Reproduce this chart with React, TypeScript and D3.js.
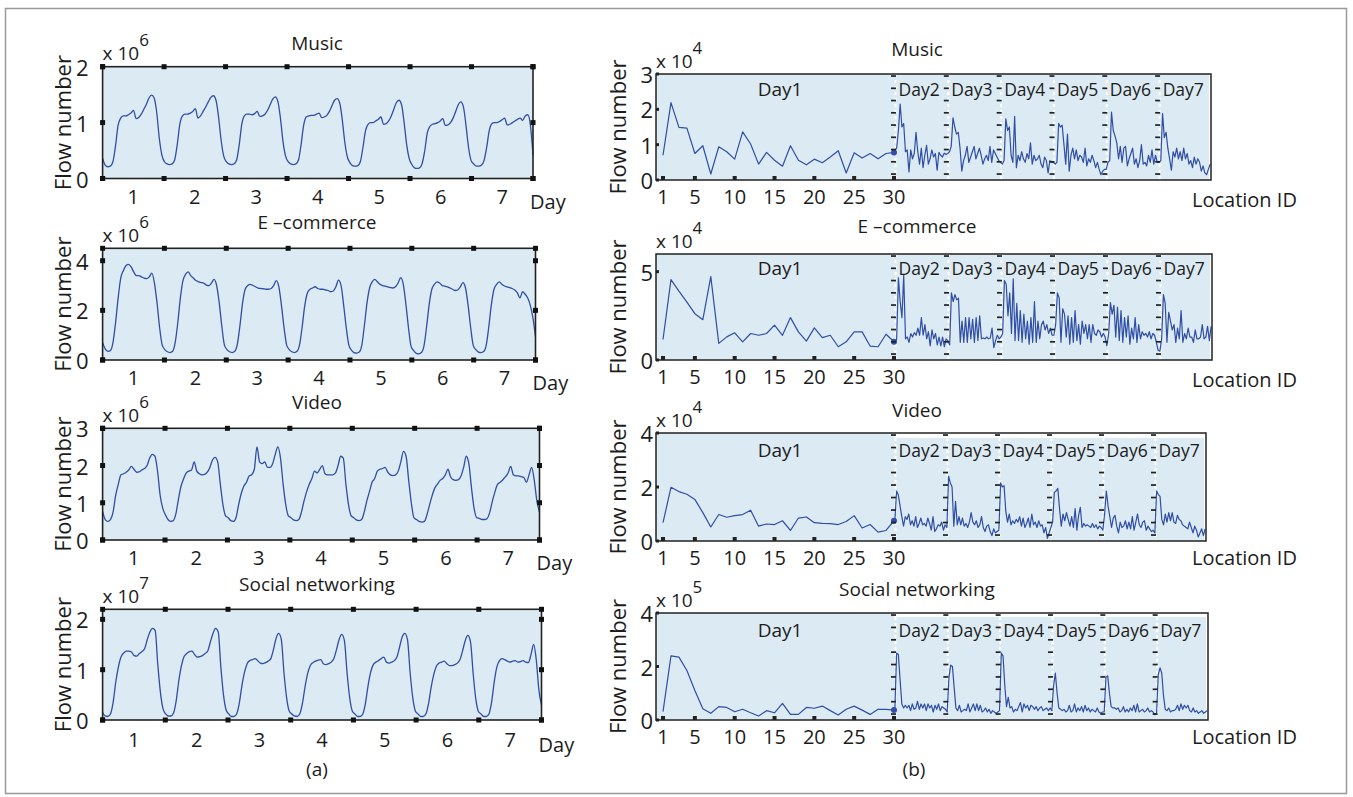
import React from "react";
import * as d3 from "d3";

const FONT = "'Open Sans', 'Noto Sans', Arial, sans-serif";
const TEXT_COLOR = "#1c1c1c";
const LINE_COLOR = "#2f4ea5";
const PANEL_BG = "#dcebf3";

// axis tick labels
const dayTicks = [1, 2, 3, 4, 5, 6, 7];
const locationTicks = [1, 5, 10, 15, 20, 25, 30];
const dayNames = ["Day2", "Day3", "Day4", "Day5", "Day6", "Day7"];

// (a) flow number per hour, one row of 24 readings per day
const musicHourly = [
  [0.36, 0.24, 0.21, 0.22, 0.3, 0.58, 0.95, 1.08, 1.12, 1.12, 1.14, 1.17, 1.22, 1.07, 1.09, 1.15, 1.24, 1.33, 1.44, 1.49, 1.44, 1.18, 0.72, 0.42],
  [0.3, 0.26, 0.25, 0.26, 0.34, 0.62, 0.98, 1.12, 1.15, 1.15, 1.17, 1.2, 1.25, 1.08, 1.12, 1.2, 1.28, 1.37, 1.45, 1.48, 1.4, 1.1, 0.68, 0.4],
  [0.3, 0.26, 0.25, 0.26, 0.33, 0.6, 0.97, 1.12, 1.15, 1.15, 1.14, 1.16, 1.2, 1.11, 1.12, 1.15, 1.22, 1.32, 1.42, 1.46, 1.38, 1.08, 0.66, 0.4],
  [0.3, 0.26, 0.25, 0.26, 0.33, 0.6, 0.95, 1.1, 1.12, 1.13, 1.13, 1.15, 1.17, 1.09, 1.1, 1.13, 1.2, 1.3, 1.4, 1.43, 1.35, 1.05, 0.64, 0.38],
  [0.28, 0.23, 0.22, 0.23, 0.3, 0.55, 0.85, 0.97, 1.0, 1.0, 1.03, 1.06, 1.1, 0.97, 0.98, 1.03, 1.12, 1.24, 1.36, 1.4, 1.32, 1.0, 0.6, 0.35],
  [0.25, 0.19, 0.18, 0.19, 0.27, 0.5, 0.82, 0.93, 0.97, 0.98, 1.0, 1.03, 1.07, 0.95, 0.96, 1.0, 1.08, 1.2, 1.32, 1.37, 1.28, 0.95, 0.55, 0.32],
  [0.26, 0.22, 0.22, 0.24, 0.32, 0.55, 0.85, 0.98, 1.0, 1.0, 1.02, 1.05, 1.08, 0.96, 0.97, 1.0, 1.03, 1.06, 1.08, 1.04, 1.12, 1.14, 0.95, 0.42],
];
const ecommerceHourly = [
  [0.7, 0.45, 0.35, 0.38, 0.7, 1.5, 2.5, 3.3, 3.6, 3.8, 3.85, 3.75, 3.55, 3.4, 3.4, 3.35, 3.3, 3.28, 3.35, 3.5, 3.1, 2.3, 1.3, 0.6],
  [0.42, 0.33, 0.3, 0.35, 0.7, 1.5, 2.5, 3.2, 3.45, 3.55, 3.4, 3.3, 3.2, 3.15, 3.12, 3.1, 3.02, 3.0, 3.1, 3.25, 3.0, 2.3, 1.35, 0.6],
  [0.42, 0.33, 0.3, 0.35, 0.65, 1.4, 2.3, 2.85, 3.0, 3.05, 3.0, 2.95, 2.9, 2.88, 2.87, 2.85, 2.85, 2.88, 3.0, 3.2, 2.95, 2.2, 1.3, 0.6],
  [0.42, 0.33, 0.3, 0.35, 0.62, 1.35, 2.2, 2.7, 2.85, 2.9, 2.95, 2.88, 2.85, 2.85, 2.82, 2.8, 2.75, 2.78, 2.95, 3.22, 3.0, 2.2, 1.3, 0.6],
  [0.4, 0.3, 0.28, 0.32, 0.6, 1.4, 2.3, 2.9, 3.15, 3.25, 3.15, 3.05, 3.0, 2.98, 2.95, 2.92, 2.9, 2.95, 3.1, 3.32, 3.05, 2.25, 1.3, 0.55],
  [0.38, 0.27, 0.25, 0.3, 0.58, 1.35, 2.25, 2.85, 3.05, 3.15, 3.1, 3.0, 2.98, 2.95, 2.9, 2.85, 2.8, 2.82, 2.95, 3.12, 2.9, 2.2, 1.3, 0.58],
  [0.42, 0.32, 0.3, 0.34, 0.6, 1.35, 2.25, 2.85, 3.05, 3.15, 3.05, 2.98, 2.95, 2.92, 2.88, 2.82, 2.7, 2.5, 2.75, 2.65, 2.5, 2.2, 1.7, 0.95],
];
const videoHourly = [
  [0.76, 0.55, 0.5, 0.55, 0.75, 1.2, 1.5, 1.75, 1.78, 1.82, 1.88, 1.98, 1.9, 1.82, 1.83, 1.88, 1.92, 2.0, 2.2, 2.3, 2.25, 1.85, 1.2, 0.85],
  [0.68, 0.55, 0.5, 0.52, 0.7, 1.1, 1.45, 1.65, 1.8, 1.85, 1.88, 2.1, 1.85, 1.78, 1.75, 1.76, 1.82, 1.95, 2.15, 2.22, 2.1, 1.5, 0.95, 0.65],
  [0.6, 0.52, 0.5, 0.6, 0.95, 1.25, 1.45, 1.55, 1.72, 1.75, 1.9, 2.5, 2.1, 2.05, 2.1, 1.95, 1.95, 2.05, 2.3, 2.5, 2.2, 1.5, 0.95, 0.65],
  [0.6, 0.54, 0.52, 0.55, 0.75, 1.05, 1.3, 1.5, 1.65, 1.85, 1.8, 1.9, 2.0, 1.78, 1.75, 1.75, 1.75, 1.8, 2.0, 2.25, 2.2, 1.5, 0.95, 0.65],
  [0.6, 0.54, 0.52, 0.55, 0.75, 1.05, 1.3, 1.55, 1.65, 1.85, 1.9, 1.92, 1.95, 1.82, 1.75, 1.73, 1.75, 1.85, 2.1, 2.38, 2.25, 1.6, 1.0, 0.6],
  [0.55, 0.5, 0.48, 0.5, 0.68, 0.95, 1.2, 1.4, 1.5, 1.6, 1.65, 1.75, 1.9, 1.7, 1.62, 1.6, 1.62, 1.72, 1.95, 2.25, 2.05, 1.4, 0.85, 0.6],
  [0.58, 0.55, 0.55, 0.58, 0.75, 1.05, 1.3, 1.5, 1.55, 1.62, 1.7, 1.8, 1.98, 1.75, 1.72, 1.72, 1.7, 1.68, 1.55, 1.75, 1.95, 1.6, 1.05, 0.75],
];
const socialHourly = [
  [0.15, 0.08, 0.07, 0.12, 0.35, 0.75, 1.05, 1.25, 1.33, 1.37, 1.37, 1.35, 1.28, 1.27, 1.32, 1.36, 1.42, 1.6, 1.75, 1.82, 1.78, 1.1, 0.55, 0.22],
  [0.12, 0.08, 0.08, 0.14, 0.38, 0.78, 1.08, 1.26, 1.32, 1.36, 1.37, 1.3, 1.25, 1.26, 1.28, 1.32, 1.37, 1.55, 1.72, 1.82, 1.75, 1.05, 0.5, 0.2],
  [0.12, 0.07, 0.07, 0.12, 0.33, 0.68, 0.95, 1.12, 1.18, 1.2, 1.22, 1.18, 1.13, 1.12, 1.14, 1.17, 1.22, 1.4, 1.62, 1.72, 1.6, 0.95, 0.45, 0.18],
  [0.12, 0.08, 0.07, 0.12, 0.32, 0.65, 0.92, 1.08, 1.14, 1.17, 1.19, 1.2, 1.12, 1.1, 1.12, 1.15, 1.22, 1.4, 1.6, 1.7, 1.58, 0.95, 0.45, 0.18],
  [0.12, 0.07, 0.07, 0.12, 0.33, 0.68, 0.95, 1.1, 1.15, 1.18, 1.22, 1.25, 1.15, 1.13, 1.15, 1.18, 1.25, 1.45, 1.65, 1.72, 1.6, 0.95, 0.45, 0.18],
  [0.12, 0.07, 0.07, 0.12, 0.32, 0.65, 0.9, 1.07, 1.13, 1.15, 1.17, 1.12, 1.08, 1.08, 1.1, 1.13, 1.2, 1.38, 1.58, 1.68, 1.55, 0.92, 0.42, 0.17],
  [0.12, 0.07, 0.07, 0.12, 0.35, 0.75, 1.05, 1.18, 1.22, 1.2, 1.17, 1.15, 1.17, 1.18, 1.15, 1.16, 1.18, 1.15, 1.14, 1.3, 1.5, 1.2, 0.6, 0.3],
];

// (b) flow number per location ID (30 locations), one row per day
const musicByLocation = [
  [0.7, 2.19, 1.49, 1.47, 0.75, 0.97, 0.17, 0.94, 0.8, 0.59, 1.36, 1.02, 0.45, 0.78, 0.56, 0.39, 0.97, 0.56, 0.43, 0.59, 0.49, 0.65, 0.83, 0.2, 0.77, 0.62, 0.75, 0.6, 0.75, 0.78],
  [0.84, 0.9, 1.4, 2.15, 1.5, 1.6, 0.8, 0.85, 0.23, 0.85, 0.6, 0.75, 1.35, 0.8, 0.45, 0.9, 0.35, 0.7, 0.98, 0.45, 0.6, 0.85, 0.65, 0.75, 0.28, 0.78, 0.7, 0.65, 0.76, 0.72],
  [0.75, 0.8, 0.95, 1.76, 1.5, 1.3, 1.35, 0.9, 0.25, 0.55, 0.7, 0.95, 0.5, 0.65, 0.8, 0.95, 0.6, 0.75, 0.9, 0.7, 0.45, 0.6, 0.7, 0.55, 0.95, 0.5, 0.85, 0.75, 0.65, 0.55],
  [0.5, 0.45, 0.55, 1.73, 1.4, 1.5, 0.7, 0.5, 1.8, 0.35, 0.7, 0.55, 0.8, 0.6, 0.5, 0.75, 0.6, 1.05, 0.45, 0.7, 0.55, 0.6, 0.7, 0.45, 0.35, 0.65, 0.55, 0.2, 0.55, 0.5],
  [0.5, 0.45, 0.5, 1.6, 1.5, 1.55, 1.0, 0.45, 1.3, 0.25, 0.7, 0.9, 0.6, 0.85, 0.55, 0.7, 0.65, 0.5, 0.9, 0.4, 0.6, 0.5, 0.7, 0.55, 0.35, 0.5, 0.3, 0.15, 0.25, 0.3],
  [0.3, 0.5, 0.55, 1.92, 1.4, 1.25, 1.05, 0.6, 0.95, 0.5, 0.9, 0.95, 0.4, 0.6, 0.75, 0.9, 0.45, 0.6, 0.35, 0.55, 1.0, 0.45, 0.5, 0.4, 0.7, 0.5, 0.85, 0.45, 0.7, 0.5],
  [0.5, 0.55, 1.88, 1.2, 1.35, 0.9, 0.6, 0.28, 0.8, 0.65, 0.9, 0.6, 0.8, 0.55, 0.9, 0.6, 0.75, 0.45, 0.55, 0.35, 0.65, 0.45, 0.6, 0.5, 0.25, 0.4, 0.2, 0.15, 0.3, 0.45],
];
const ecommerceByLocation = [
  [1.16, 4.55, 3.9, 3.28, 2.62, 2.28, 4.72, 0.94, 1.31, 1.54, 1.03, 1.5, 1.4, 1.5, 1.97, 1.4, 2.4, 1.59, 1.07, 1.82, 1.27, 1.4, 0.75, 1.03, 1.59, 1.59, 0.79, 0.75, 1.46, 1.03],
  [0.95, 1.2, 4.65, 3.3, 2.4, 4.8, 1.2, 1.3, 1.0, 1.5, 1.3, 1.55, 1.4, 1.8, 1.4, 2.4, 1.4, 2.0, 1.2, 1.6, 0.8, 1.7, 1.2, 1.5, 0.85, 1.3, 0.8, 1.3, 0.75, 1.2],
  [1.1, 0.85, 3.8, 3.3, 3.7, 3.4, 3.5, 1.0, 2.2, 1.0, 2.4, 1.0, 2.4, 1.2, 2.3, 1.0, 2.4, 1.1, 2.5, 1.2, 1.25, 1.2, 1.3, 1.2, 1.25, 1.8, 0.7, 1.1, 1.4, 1.2],
  [1.3, 1.5, 4.5, 4.3, 2.5, 3.8, 1.5, 4.6, 1.1, 3.2, 1.1, 2.8, 1.0, 2.6, 1.2, 2.2, 0.9, 2.4, 1.0, 3.3, 1.0, 2.2, 1.2, 2.0, 2.2, 1.7, 2.0, 1.5, 1.8, 1.4],
  [1.4, 2.0, 3.8, 3.5, 1.0, 2.9, 2.6, 1.3, 2.5, 0.9, 2.4, 1.0, 2.8, 1.1, 2.0, 0.9, 2.2, 1.5, 2.0, 1.2, 2.0, 1.0, 2.0, 1.5, 1.4, 1.7, 1.6, 1.3, 1.5, 1.3],
  [0.8, 1.5, 3.25, 2.6, 3.1, 1.3, 3.0, 1.1, 2.8, 1.0, 2.4, 1.3, 2.5, 0.9, 1.8, 1.2, 2.4, 1.0, 2.0, 1.2, 1.6, 1.4, 1.5, 1.3, 1.6, 1.2, 1.5, 1.4, 1.0, 0.55],
  [0.5, 1.2, 3.7, 3.2, 1.0, 2.7, 2.2, 1.7, 2.0, 1.0, 1.8, 1.2, 2.8, 1.0, 1.5, 1.2, 1.8, 1.3, 1.3, 1.0, 1.7, 1.2, 1.2, 1.3, 2.0, 1.2, 1.3, 1.9, 1.1, 1.9],
];
const videoByLocation = [
  [0.68, 1.99, 1.83, 1.73, 1.54, 1.05, 0.52, 0.98, 0.88, 0.94, 0.98, 1.14, 0.55, 0.63, 0.61, 0.75, 0.39, 0.85, 0.89, 0.68, 0.65, 0.64, 0.61, 0.72, 0.94, 0.48, 0.61, 0.33, 0.39, 0.75],
  [0.75, 1.85, 1.7, 1.3, 0.9, 0.55, 0.9, 0.8, 1.0, 0.6, 0.75, 0.55, 0.9, 0.5, 0.65, 0.85, 0.6, 0.65, 0.55, 0.85, 0.65, 0.4, 0.9, 0.35, 0.45, 0.6, 0.55, 0.7, 0.4, 0.6],
  [0.5, 2.4, 2.15, 2.0, 0.55, 1.47, 0.6, 0.9, 0.6, 0.85, 0.55, 0.65, 0.5, 0.7, 1.05, 0.7, 0.6, 0.75, 0.5, 0.6, 0.9, 0.5, 0.35, 0.55, 0.6, 0.35, 0.2, 0.45, 0.3, 0.35],
  [0.4, 2.15, 2.0, 2.05, 1.1, 0.7, 1.0, 0.6, 0.75, 0.65, 0.8, 0.7, 0.9, 0.55, 0.85, 0.5, 0.65, 0.85, 0.5, 1.0, 0.6, 0.7, 0.5, 0.75, 0.55, 0.6, 0.3, 0.5, 0.1, 0.3],
  [0.5, 0.7, 1.8, 1.85, 1.95, 1.2, 0.55, 1.0, 0.75, 1.05, 0.8, 0.55, 0.9, 0.5, 1.2, 0.4, 0.95, 1.25, 0.5, 0.65, 0.55, 0.6, 0.55, 0.5, 0.65, 0.5, 0.6, 0.45, 0.55, 0.5],
  [0.4, 1.0, 1.85, 1.3, 0.9, 0.5, 0.85, 0.95, 0.55, 0.3, 0.7, 0.5, 0.55, 0.75, 0.45, 0.7, 0.45, 0.9, 0.4, 0.7, 1.0, 0.6, 0.5, 0.7, 0.75, 0.4, 0.55, 0.45, 0.35, 0.4],
  [0.3, 1.85, 1.72, 1.65, 0.8, 0.6, 1.0, 0.7, 1.05, 0.75, 1.05, 0.7, 0.65, 0.95, 0.8, 0.75, 0.6, 0.55, 0.5, 0.45, 0.7, 0.5, 0.3, 0.55, 0.4, 0.15, 0.3, 0.45, 0.2, 0.45],
];
const socialByLocation = [
  [0.31, 2.4, 2.35, 1.85, 1.1, 0.42, 0.25, 0.5, 0.47, 0.31, 0.4, 0.27, 0.15, 0.35, 0.27, 0.62, 0.21, 0.21, 0.47, 0.44, 0.52, 0.35, 0.19, 0.4, 0.52, 0.37, 0.21, 0.4, 0.4, 0.37],
  [0.4, 2.5, 2.45, 1.5, 0.6, 0.45, 0.55, 0.45, 0.55, 0.35, 0.6, 0.4, 0.45, 0.7, 0.4, 0.6, 0.45, 0.6, 0.35, 0.6, 0.45, 0.55, 0.3, 0.55, 0.4, 0.6, 0.35, 0.5, 0.45, 0.4],
  [0.3, 1.6, 2.05, 2.0, 1.2, 0.45, 0.35, 0.55, 0.3, 0.35, 0.4, 0.35, 0.6, 0.3, 0.45, 0.6, 0.35, 0.6, 0.35, 0.55, 0.3, 0.35, 0.45, 0.3, 0.4, 0.25, 0.35, 0.3, 0.25, 0.3],
  [0.35, 2.5, 2.4, 1.3, 0.5, 0.85, 0.45, 0.5, 0.3, 0.4, 0.35, 0.5, 0.65, 0.3, 0.6, 0.45, 0.55, 0.35, 0.55, 0.5, 0.4, 0.5, 0.35, 0.45, 0.5, 0.35, 0.4, 0.45, 0.35, 0.45],
  [0.35, 1.3, 1.75, 1.0, 0.45, 0.4, 0.35, 0.4, 0.3, 0.35, 0.55, 0.3, 0.35, 0.6, 0.3, 0.45, 0.35, 0.5, 0.3, 0.55, 0.35, 0.45, 0.3, 0.4, 0.35, 0.3, 0.45, 0.3, 0.25, 0.3],
  [0.3, 1.6, 1.65, 1.0, 0.5, 0.45, 0.45, 0.4, 0.45, 0.3, 0.35, 0.5, 0.3, 0.4, 0.3, 0.45, 0.35, 0.55, 0.3, 0.6, 0.3, 0.35, 0.4, 0.3, 0.35, 0.45, 0.3, 0.35, 0.3, 0.2],
  [0.25, 1.7, 1.95, 1.75, 0.9, 0.4, 0.35, 0.45, 0.3, 0.35, 0.35, 0.4, 0.55, 0.35, 0.6, 0.4, 0.55, 0.45, 0.55, 0.35, 0.3, 0.45, 0.3, 0.35, 0.25, 0.3, 0.35, 0.25, 0.3, 0.35],
];

// layout of the panels (pixels)
const hourlyPanels = [
  { title: "Music", exp: "6", rows: musicHourly, yMax: 2, yTicks: [0, 1, 2], left: 102.6, right: 533, top: 66.7, bottom: 178.5, titleY: 50, labDy: 25 },
  { title: "E \u2013commerce", exp: "6", rows: ecommerceHourly, yMax: 4.5, yTicks: [0, 2, 4], left: 102.6, right: 535.5, top: 248.3, bottom: 360, titleY: 229, labDy: 25 },
  { title: "Video", exp: "6", rows: videoHourly, yMax: 3, yTicks: [0, 1, 2, 3], left: 102.6, right: 539.5, top: 428.3, bottom: 540, titleY: 409, labDy: 25 },
  { title: "Social networking", exp: "7", rows: socialHourly, yMax: 2.2, yTicks: [0, 1, 2], left: 102.6, right: 541.5, top: 609.3, bottom: 720, titleY: 591, labDy: 27 },
];

const locationPanels = [
  { title: "Music", exp: "4", rows: musicByLocation, yMax: 3, yTicks: [0, 1, 2, 3], left: 656, right: 1211, top: 74, bottom: 180, titleY: 56, gap: 0, locDy: 27, dayDy: 22 },
  { title: "E \u2013commerce", exp: "4", rows: ecommerceByLocation, yMax: 6, yTicks: [0, 5], left: 656, right: 1212, top: 254, bottom: 360, titleY: 233, gap: 0, locDy: 27, dayDy: 21 },
  { title: "Video", exp: "4", rows: videoByLocation, yMax: 4, yTicks: [0, 2, 4], left: 656, right: 1206, top: 433, bottom: 541, titleY: 417, gap: 5, locDy: 24, dayDy: 24 },
  { title: "Social networking", exp: "5", rows: socialByLocation, yMax: 4, yTicks: [0, 2, 4], left: 656, right: 1208, top: 613, bottom: 720, titleY: 596, gap: 4, locDy: 24, dayDy: 24 },
];

const SEP_X = 894; // location 30 of day 1

function HourlyPanel({ p }) {
  const values = p.rows.flat();
  const x = d3.scaleLinear().domain([0.5, 7.5]).range([p.left, p.right]);
  const y = d3.scaleLinear().domain([0, p.yMax]).range([p.bottom, p.top]);
  const t = d3.scaleLinear().domain([0, values.length - 1]).range([0.5, 7.5]);
  const path = d3
    .line()
    .x((d, i) => x(t(i)))
    .y((d) => y(d))
    .curve(d3.curveMonotoneX)(values);
  const edges = d3.range(0.5, 8, 1);
  const s = 5;
  const midY = (p.top + p.bottom) / 2;

  return (
    <g fontFamily={FONT} fill={TEXT_COLOR}>
      <rect x={p.left} y={p.top} width={p.right - p.left} height={p.bottom - p.top} fill={PANEL_BG} />
      <path d={path} fill="none" stroke={LINE_COLOR} strokeWidth={1.3} />
      <rect x={p.left} y={p.top} width={p.right - p.left} height={p.bottom - p.top} fill="none" stroke="#222" strokeWidth={1.6} />
      {edges.map((e) => (
        <g key={e} fill="#111">
          <rect x={x(e) - s / 2} y={p.top - s / 2} width={s} height={s} />
          <rect x={x(e) - s / 2} y={p.bottom - s / 2} width={s} height={s} />
        </g>
      ))}
      {p.yTicks.map((v) => (
        <g key={v}>
          <rect x={p.left - s / 2} y={y(v) - s / 2} width={s} height={s} fill="#111" />
          <rect x={p.right - s / 2} y={y(v) - s / 2} width={s} height={s} fill="#111" />
          <text x={p.left - 14} y={y(v)} fontSize={22} textAnchor="end" dominantBaseline="central">{v}</text>
        </g>
      ))}
      {dayTicks.map((d) => (
        <text key={d} x={x(d)} y={p.bottom + p.labDy} fontSize={20} textAnchor="middle">{d}</text>
      ))}
      <text x={p.right - 3} y={p.bottom + p.labDy + 5} fontSize={20}>Day</text>
      <text x={317} y={p.titleY} fontSize={19} textAnchor="middle">{p.title}</text>
      <text x={p.left} y={p.top - 6.5} fontSize={19}>
        x 10<tspan dy={-14} fontSize={17}>{p.exp}</tspan>
      </text>
      <text transform={`translate(71,${midY}) rotate(-90)`} fontSize={22} textAnchor="middle">Flow number</text>
    </g>
  );
}

function LocationPanel({ p }) {
  const values = p.rows.flat();
  // day 1 spreads over location IDs 1..30, days 2-7 are packed after it
  const x = d3.scaleLinear().domain([0.12, 30, 210]).range([p.left, SEP_X, p.right]);
  const y = d3.scaleLinear().domain([0, p.yMax]).range([p.bottom, p.top]);
  const pos = (i) => (i < 30 ? i + 1 : i + 0.5);
  const path = d3
    .line()
    .x((d, i) => x(pos(i)))
    .y((d) => y(d))(values);
  const seps = d3.range(30, 181, 30);
  const h = p.bottom - p.top;
  const dashes = d3.range(9).map((i) => p.top + 2 + (i * (h - 8)) / 8);
  const midY = (p.top + p.bottom) / 2;

  return (
    <g fontFamily={FONT} fill={TEXT_COLOR}>
      <rect x={p.left} y={p.top} width={SEP_X - p.left} height={h} fill={PANEL_BG} />
      <rect x={SEP_X} y={p.top + p.gap} width={p.right - SEP_X - 2} height={h - p.gap} fill={PANEL_BG} />
      {seps.map((sv) => (
        <line key={"w" + sv} x1={x(sv) + 1.5} x2={x(sv) + 1.5} y1={p.top + p.gap} y2={p.bottom} stroke="#fff" strokeWidth={2} strokeDasharray="3 3" />
      ))}
      <path d={path} fill="none" stroke={LINE_COLOR} strokeWidth={1.2} strokeLinejoin="round" />
      <circle cx={x(30)} cy={y(values[29])} r={3} fill={LINE_COLOR} />
      {seps.map((sv) => (
        <g key={"d" + sv} fill="#222">
          {dashes.map((dy) => (
            <rect key={dy} x={x(sv) - 3} y={dy - 0.8} width={5} height={1.7} />
          ))}
        </g>
      ))}
      <rect x={p.left} y={p.top} width={p.right - p.left} height={h} fill="none" stroke="#222" strokeWidth={1.5} />
      {p.yTicks.map((v) => (
        <g key={v}>
          <rect x={p.left} y={y(v) - 1.5} width={3} height={3} fill="#222" />
          <text x={p.left - 3} y={y(v)} fontSize={22} textAnchor="end" dominantBaseline="central">{v}</text>
        </g>
      ))}
      {locationTicks.map((l) => (
        <g key={l}>
          <rect x={x(l) - 2} y={p.bottom - 4} width={4} height={4} fill="#222" />
          <text x={x(l)} y={p.bottom + 24} fontSize={20} textAnchor="middle">{l}</text>
        </g>
      ))}
      <text x={780} y={p.top + p.dayDy} fontSize={19} textAnchor="middle">Day1</text>
      {dayNames.map((name, k) => (
        <text key={name} x={x(seps[k]) + 4.5} y={p.top + p.dayDy} fontSize={17.5}>{name}</text>
      ))}
      <text x={1192} y={p.bottom + p.locDy} fontSize={20}>Location ID</text>
      <text x={917} y={p.titleY} fontSize={19} textAnchor="middle">{p.title}</text>
      <text x={p.left} y={p.top - 6} fontSize={19}>
        x 10<tspan dy={-14} fontSize={17}>{p.exp}</tspan>
      </text>
      <text transform={`translate(626,${midY}) rotate(-90)`} fontSize={22} textAnchor="middle">Flow number</text>
    </g>
  );
}

export default function App() {
  return (
    <svg width={1353} height={797} style={{ position: "absolute", left: 0, top: 0, background: "#fff" }}>
      <rect x={5.5} y={8.5} width={1341} height={785} fill="none" stroke="#9a9a9a" strokeWidth={1.5} />
      {hourlyPanels.map((p) => (
        <HourlyPanel key={"a" + p.title} p={p} />
      ))}
      {locationPanels.map((p) => (
        <LocationPanel key={"b" + p.title} p={p} />
      ))}
      <text x={317} y={776} fontFamily={FONT} fontSize={19} textAnchor="middle" fill={TEXT_COLOR}>(a)</text>
      <text x={914} y={776} fontFamily={FONT} fontSize={19} textAnchor="middle" fill={TEXT_COLOR}>(b)</text>
    </svg>
  );
}
